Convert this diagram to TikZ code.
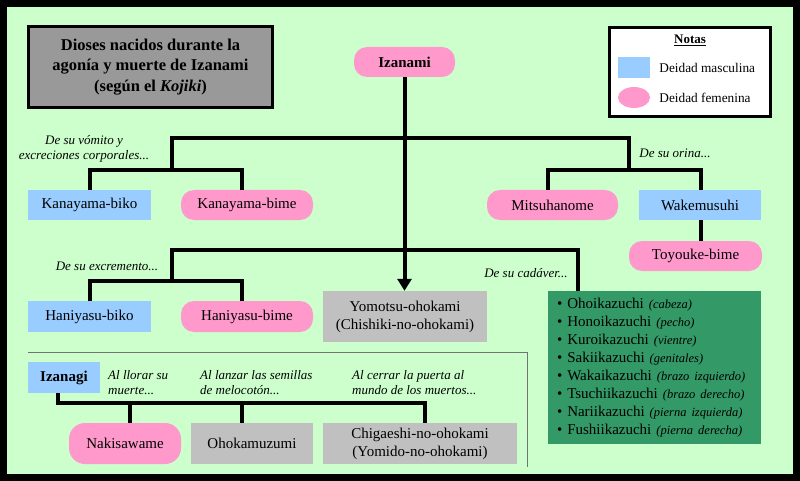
\documentclass[tikz,border=0pt]{standalone}
\usepackage{fontspec}
\setmainfont{Liberation Serif}
\usetikzlibrary{arrows.meta,shapes.geometric}
\definecolor{fondo}{HTML}{CCFFCC}
\definecolor{mascblue}{HTML}{99CCFF}
\definecolor{fempink}{HTML}{FF99CC}
\definecolor{otrogris}{HTML}{C0C0C0}
\definecolor{titulogris}{HTML}{999999}
\definecolor{cadverde}{HTML}{339966}
\newcommand{\parte}[1]{{\fontsize{12.5}{18}\selectfont\itshape (#1)}}

\begin{document}
\begin{tikzpicture}[x=1pt,y=-1pt,line join=miter,
    every node/.style={font=\fontsize{15}{18}\selectfont, inner sep=0pt, text=black},
    deity/.style={minimum height=30pt, align=center},
    masc/.style={deity, fill=mascblue},
    fem/.style={deity, fill=fempink, rounded corners=13pt},
    otro/.style={deity, fill=otrogris},
    bar/.style={line width=4pt},
    nota/.style={font=\fontsize{13}{15}\selectfont\itshape, align=center}]
    \useasboundingbox (0,0) rectangle (800,481);
    \fill[black] (0,0) rectangle (800,481);
    \fill[fondo] (7,7) rectangle (793,474);

    % titulo y notas
    \node[draw, line width=3pt, fill=titulogris, minimum width=244pt, minimum height=81pt,
        align=center, font=\fontsize{16.5}{20.5}\selectfont\bfseries] (titulo) at (150.5,67)
        {Dioses nacidos durante la\\agonía y muerte de Izanami\\(según el \textit{Kojiki})};
    \node[draw, line width=3pt, fill=white, minimum width=161pt, minimum height=89pt] (notas) at (690,72) {};
    \node[font=\fontsize{13}{14}\selectfont\bfseries] (notastit) at (690,40) {\underline{Notas}};
    \node[fill=mascblue, minimum width=32pt, minimum height=21pt] (lmasc) at (634,67.5) {};
    \node[fill=fempink, ellipse, minimum width=32pt, minimum height=21pt] (lfem) at (634,97.5) {};
    \node[anchor=west, font=\fontsize{13.3}{14}\selectfont] (lmasctxt) at ([xshift=9pt]lmasc.east) {Deidad masculina};
    \node[anchor=west, font=\fontsize{13.3}{14}\selectfont] (lfemtxt) at ([xshift=9pt]lfem.east) {Deidad femenina};

    % Izanami y sus hijos
    \node[fem, minimum width=101pt] (izanami) at (404.5,62) {\textbf{Izanami}};
    \node[masc, minimum width=123pt] (kbiko) at (89.5,205) {Kanayama-biko};
    \node[fem, minimum width=132pt] (kbime) at (247,205) {Kanayama-bime};
    \node[fem, minimum width=131pt] (mitsu) at (552.5,205) {Mitsuhanome};
    \node[masc, minimum width=122pt] (wake) at (700,205) {Wakemusuhi};
    \node[fem, minimum width=133pt] (toyouke) at (695.5,256) {Toyouke-bime};
    \node[masc, minimum width=123pt, minimum height=31pt] (hbiko) at (89.5,316.5) {Haniyasu-biko};
    \node[fem, minimum width=132pt, minimum height=31pt] (hbime) at (247,316.5) {Haniyasu-bime};
    \node[otro, minimum width=164pt, minimum height=51pt] (yomotsu) at (405,316.5)
        {Yomotsu-ohokami\\(Chishiki-no-ohokami)};
    \node[fill=cadverde, text width=195pt, inner xsep=9pt, minimum height=153pt, align=left] (cadaver) at (654.5,367.5)
        {\textbullet~Ohoikazuchi \parte{cabeza}\\
         \textbullet~Honoikazuchi \parte{pecho}\\
         \textbullet~Kuroikazuchi \parte{vientre}\\
         \textbullet~Sakiikazuchi \parte{genitales}\\
         \textbullet~Wakaikazuchi \parte{brazo izquierdo}\\
         \textbullet~Tsuchiikazuchi \parte{brazo derecho}\\
         \textbullet~Nariikazuchi \parte{pierna izquierda}\\
         \textbullet~Fushiikazuchi \parte{pierna derecha}};

    \coordinate (k0) at (172,170);
    \coordinate (t2) at (629,138);
    \coordinate (m0) at (629,170);
    \coordinate (h0) at (172,281);
    \coordinate (c0) at (578,250);
    \draw[bar] (k0) |- (t2) -- (m0);
    \draw[bar] (k0) -| (kbiko.north);
    \draw[bar] (k0) -| ([xshift=-5pt]kbime.north);
    \draw[bar] (m0) -| ([xshift=-5pt]mitsu.north);
    \draw[bar] (m0) -| ([xshift=1pt]wake.north);
    \draw[bar] ([xshift=1pt]wake.south) -- ([xshift=5.5pt]toyouke.north);
    \draw[bar] (h0) |- (c0) -- (c0 |- cadaver.north);
    \draw[bar] (h0) -| (hbiko.north);
    \draw[bar] (h0) -| ([xshift=-5pt]hbime.north);
    \draw[bar, -{Triangle[width=14pt,length=12pt]}] (izanami.south) -- (izanami.south |- yomotsu.north);

    \node[nota] (nvomito) at (84,149) {De su vómito y\\excreciones corporales...};
    \node[nota] (norina) at (675,153) {De su orina...};
    \node[nota] (nexcre) at (107,266) {De su excremento...};
    \node[nota] (ncadaver) at (526,273) {De su cadáver...};

    % Izanagi
    \draw[black!55, line width=0.8pt] (28,352) -- (527,352) -- (527,467);
    \node[masc, minimum width=72pt, minimum height=31pt] (izanagi) at (64,377.5) {\textbf{Izanagi}};
    \node[fem, minimum width=112pt, minimum height=41pt, rounded corners=16pt] (naki) at (125,443.5) {Nakisawame};
    \node[otro, minimum width=122pt, minimum height=41pt] (ohoka) at (252,443.5) {Ohokamuzumi};
    \node[otro, minimum width=194pt, minimum height=41pt] (chig) at (420,443.5)
        {Chigaeshi-no-ohokami\\(Yomido-no-ohokami)};
    \coordinate (z0) at (425,403);
    \draw[bar] ([xshift=-6pt]izanagi.south) |- (z0) -- ([xshift=5pt]chig.north);
    \draw[bar] (z0) -| ([xshift=5pt]naki.north);
    \draw[bar] (z0) -| ([xshift=-10pt]ohoka.north);
    \node[nota, align=left, anchor=west] (nllorar) at (108,383) {Al llorar su\\muerte...};
    \node[nota, align=left, anchor=west] (nlanzar) at (200,383) {Al lanzar las semillas\\de melocotón...};
    \node[nota, align=left, anchor=west] (ncerrar) at (352,383) {Al cerrar la puerta al\\mundo de los muertos...};
\end{tikzpicture}
\end{document}
